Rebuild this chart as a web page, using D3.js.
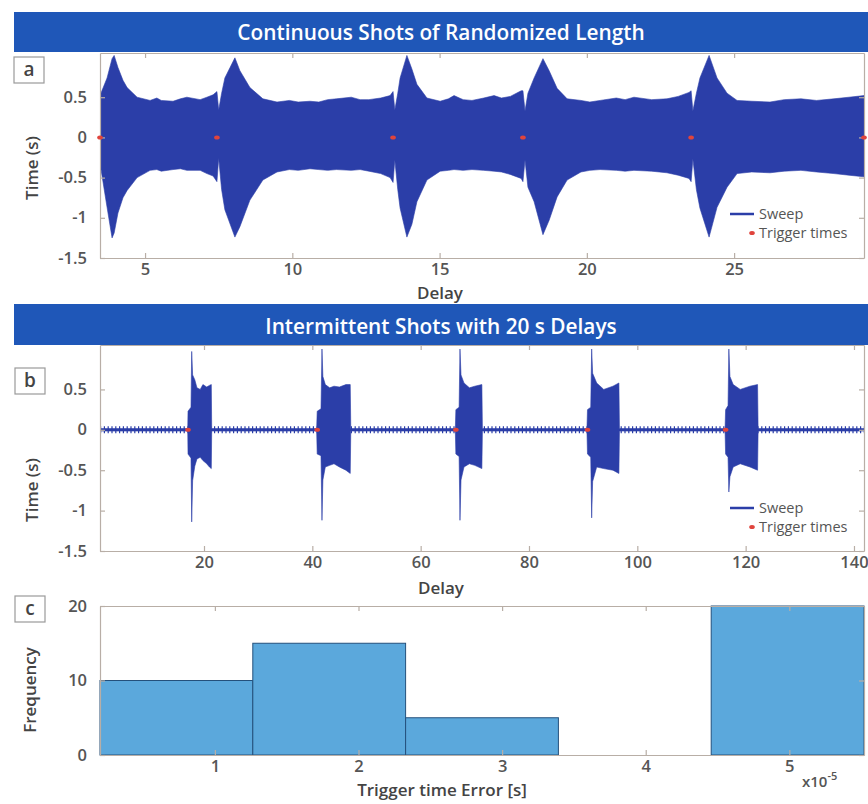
<!DOCTYPE html>
<html>
<head>
<meta charset="utf-8">
<script src="https://cdn.jsdelivr.net/npm/d3@7"></script>
<style>
  body { margin: 0; background: #ffffff; }
  text { font-family: "Open Sans", "Noto Sans", sans-serif; }
</style>
</head>
<body>
<svg id="fig" width="868" height="804"></svg>
<script>
// ---------- Panel a: continuous shots (envelope of the sweep: [delay, upper, lower]) ----------
const sweepA = [
  [3.47, 0.52, -0.32], [3.71, 0.74, -0.87], [3.88, 0.98, -1.25], [3.95, 1.02, -1.19],
  [4.08, 0.87, -0.94], [4.25, 0.71, -0.75], [4.39, 0.62, -0.66], [4.73, 0.50, -0.50],
  [5.17, 0.46, -0.41], [5.40, 0.49, -0.40], [5.55, 0.46, -0.42], [5.95, 0.45, -0.40],
  [6.20, 0.48, -0.39], [6.42, 0.50, -0.41], [6.87, 0.47, -0.41], [7.10, 0.50, -0.45],
  [7.31, 0.53, -0.48], [7.44, 0.57, -0.55], [7.50, 0.34, -0.26], [7.60, 0.55, -0.65],
  [7.71, 0.74, -0.90], [8.05, 0.99, -1.24], [8.22, 0.83, -1.11], [8.56, 0.62, -0.78],
  [9.00, 0.48, -0.53], [9.48, 0.44, -0.43], [9.90, 0.46, -0.40], [10.20, 0.44, -0.41],
  [10.60, 0.45, -0.39], [10.90, 0.44, -0.40], [11.20, 0.47, -0.41], [11.50, 0.48, -0.40],
  [12.00, 0.50, -0.41], [12.30, 0.47, -0.40], [12.60, 0.47, -0.42], [13.00, 0.49, -0.45],
  [13.32, 0.52, -0.50], [13.42, 0.57, -0.56], [13.48, 0.34, -0.28], [13.58, 0.55, -0.65],
  [13.66, 0.74, -0.88], [13.89, 1.02, -1.24], [14.06, 0.85, -1.08], [14.23, 0.66, -0.80],
  [14.57, 0.49, -0.53], [15.02, 0.45, -0.42], [15.30, 0.48, -0.41], [15.49, 0.52, -0.40],
  [15.80, 0.47, -0.41], [16.10, 0.46, -0.40], [16.50, 0.49, -0.41], [16.85, 0.52, -0.42],
  [17.10, 0.49, -0.43], [17.40, 0.51, -0.46], [17.77, 0.58, -0.51], [17.83, 0.58, -0.55],
  [17.90, 0.33, -0.28], [18.00, 0.55, -0.62], [18.21, 0.74, -0.80], [18.51, 0.98, -1.21],
  [18.72, 0.83, -1.03], [18.99, 0.61, -0.74], [19.33, 0.48, -0.53], [19.80, 0.46, -0.43],
  [20.10, 0.44, -0.41], [20.45, 0.46, -0.40], [21.00, 0.49, -0.41], [21.30, 0.47, -0.42],
  [21.60, 0.50, -0.41], [22.20, 0.47, -0.42], [22.72, 0.48, -0.44], [23.10, 0.51, -0.47],
  [23.47, 0.56, -0.51], [23.54, 0.58, -0.55], [23.60, 0.33, -0.27], [23.72, 0.55, -0.65],
  [23.84, 0.74, -0.88], [24.15, 1.02, -1.24], [24.42, 0.74, -0.87], [24.76, 0.55, -0.62],
  [25.10, 0.46, -0.45], [25.60, 0.45, -0.43], [26.22, 0.44, -0.44], [26.70, 0.47, -0.42],
  [27.27, 0.48, -0.41], [27.80, 0.46, -0.43], [28.39, 0.48, -0.45], [28.90, 0.50, -0.47],
  [29.41, 0.52, -0.49]
];
const triggersA = [3.47, 7.44, 13.42, 17.83, 23.54, 29.41];
const xTicksA = [5, 10, 15, 20, 25];

// ---------- Panel b: intermittent shots ----------
const sweepB = [
  [0.80, 0.015, -0.015], [17.00, 0.015, -0.015],
  [17.05, 0.23, -0.30], [17.60, 0.28, -0.35], [17.73, 0.97, -1.14], [17.90, 0.68, -0.63],
  [18.30, 0.62, -0.45], [18.70, 0.52, -0.36], [19.30, 0.50, -0.34], [19.80, 0.56, -0.38],
  [20.50, 0.53, -0.42], [21.00, 0.55, -0.46], [21.35, 0.56, -0.48], [21.42, 0.015, -0.015],
  [40.80, 0.015, -0.015],
  [40.90, 0.23, -0.30], [41.60, 0.26, -0.32], [41.78, 1.00, -1.12], [41.95, 0.66, -0.62],
  [42.40, 0.56, -0.46], [43.20, 0.52, -0.44], [44.00, 0.54, -0.42], [45.00, 0.53, -0.46],
  [46.20, 0.56, -0.50], [47.00, 0.56, -0.54], [47.10, 0.015, -0.015],
  [66.40, 0.015, -0.015],
  [66.50, 0.25, -0.30], [67.10, 0.28, -0.33], [67.26, 1.00, -1.12], [67.45, 0.68, -0.62],
  [68.00, 0.58, -0.46], [69.00, 0.52, -0.42], [70.00, 0.54, -0.44], [71.30, 0.56, -0.48],
  [71.40, 0.015, -0.015],
  [90.70, 0.015, -0.015],
  [90.80, 0.25, -0.30], [91.40, 0.28, -0.34], [91.57, 1.00, -1.09], [91.75, 0.70, -0.64],
  [92.50, 0.58, -0.46], [93.80, 0.50, -0.48], [95.50, 0.54, -0.50], [96.60, 0.58, -0.54],
  [96.70, 0.015, -0.015],
  [116.20, 0.015, -0.015],
  [116.30, 0.25, -0.30], [116.75, 0.30, -0.34], [116.90, 1.00, -0.77], [117.10, 0.66, -0.58],
  [117.70, 0.56, -0.46], [119.00, 0.50, -0.42], [120.80, 0.54, -0.46], [122.20, 0.56, -0.50],
  [122.30, 0.015, -0.015],
  [141.85, 0.015, -0.015]
];
const triggersB = [17.05, 40.9, 66.5, 90.8, 116.3];
const xTicksB = [20, 40, 60, 80, 100, 120, 140];

// shared y axis of panels a and b
const yTicksAB = [-1.5, -1, -0.5, 0, 0.5];
const yTickLabelsAB = ["-1.5", "-1", "-0.5", "0", "0.5"];

// ---------- Panel c: histogram of trigger time error (x in units of 1e-5 s) ----------
const binEdges = [0.2, 1.264, 2.328, 3.392, 4.456, 5.52];
const binCounts = [10, 15, 5, 0, 20];
const xTicksC = [1, 2, 3, 4, 5];
const yTicksC = [0, 10, 20];
const yTickLabelsC = ["0", "10", "20"];

// ---------- drawing ----------
const svg = d3.select("#fig");
const C = {
  banner: "#1f57b8", sweep: "#2b3ea8", trig: "#e0443c",
  bar: "#5ba8dc", barEdge: "#24507c", frame: "#b8aea6",
  tick: "#555555", label: "#444444"
};
const L = 100, R = 864;
const TICK_FS = 16.5, LABEL_FS = 17;

// boxed axes with inward ticks; y tick labels are right-aligned 13px left of the axis
function frame(g, x, y, xt, yt, ytLabels, top, bottom) {
  const axB = d3.axisBottom(x).tickValues(xt).tickSize(-5).tickSizeOuter(0).tickPadding(5)
    .tickFormat(d3.format("d"));
  const axL = d3.axisLeft(y).tickValues(yt).tickSize(-5).tickSizeOuter(0).tickFormat("");
  const axT = d3.axisTop(x).tickValues(xt).tickSize(-5).tickSizeOuter(0).tickFormat("");
  const axR = d3.axisRight(y).tickValues(yt).tickSize(-5).tickSizeOuter(0).tickFormat("");
  g.append("g").attr("transform", `translate(0,${bottom})`).call(axB);
  g.append("g").attr("transform", `translate(${L},0)`).call(axL);
  g.append("g").attr("transform", `translate(0,${top})`).call(axT);
  g.append("g").attr("transform", `translate(${R},0)`).call(axR);
  g.selectAll(".domain, .tick line").attr("stroke", C.frame).attr("stroke-width", 1.2);
  g.selectAll(".tick text").attr("fill", C.tick).attr("font-size", TICK_FS).attr("font-weight", 600);
  g.append("g").selectAll("text").data(yt).join("text")
    .attr("x", L - 13).attr("y", d => y(d)).attr("dy", "0.34em")
    .attr("text-anchor", "end").attr("fill", C.tick).attr("font-size", TICK_FS).attr("font-weight", 600)
    .text((d, i) => ytLabels[i]);
}

function labelBox(letter, x, y) {
  svg.append("rect").attr("x", x).attr("y", y).attr("width", 30).attr("height", 26)
    .attr("fill", "#fff").attr("stroke", "#9a9a9a").attr("stroke-width", 1.2);
  svg.append("text").attr("x", x + 15).attr("y", y + 19).attr("text-anchor", "middle")
    .attr("font-size", 19).attr("font-weight", 600).attr("fill", "#444").text(letter);
}

function banner(title, y, h, ty) {
  svg.append("rect").attr("x", 14).attr("y", y).attr("width", 854).attr("height", h).attr("fill", C.banner);
  svg.append("text").attr("x", 441).attr("y", ty).attr("text-anchor", "middle")
    .attr("fill", "#ffffff").attr("font-size", 20.8).attr("font-weight", 600).text(title);
}

function yLabel(txt, cx, cy) {
  svg.append("text").attr("transform", `translate(${cx},${cy}) rotate(-90)`)
    .attr("text-anchor", "middle").attr("font-size", LABEL_FS).attr("font-weight", 600)
    .attr("fill", C.label).text(txt);
}

function legend(x, y) {
  const g = svg.append("g").attr("transform", `translate(${x},${y})`);
  g.append("line").attr("x1", 0).attr("x2", 24).attr("y1", 0).attr("y2", 0)
    .attr("stroke", C.sweep).attr("stroke-width", 2.5);
  g.append("text").attr("x", 29).attr("y", 5).attr("font-size", 14.5).attr("fill", "#555").text("Sweep");
  g.append("ellipse").attr("cx", 22).attr("cy", 19).attr("rx", 2.8).attr("ry", 2).attr("fill", C.trig);
  g.append("text").attr("x", 29).attr("y", 24).attr("font-size", 14.5).attr("fill", "#555").text("Trigger times");
}

function sweepPanel(id, data, triggers, xDomain, xTicks, top, bottom) {
  const x = d3.scaleLinear().domain(xDomain).range([L, R]);
  const y = d3.scaleLinear().domain([-1.5, 1.05]).range([bottom, top]);
  const g = svg.append("g");
  const clip = "clip-" + id;
  svg.append("clipPath").attr("id", clip).append("rect")
    .attr("x", L).attr("y", top - 10).attr("width", R - L).attr("height", bottom - top + 10);
  const plot = g.append("g").attr("clip-path", `url(#${clip})`);
  if (id === "b") {
    // low-level ringing between shots
    plot.append("line").attr("x1", L).attr("x2", R).attr("y1", y(0)).attr("y2", y(0))
      .attr("stroke", C.sweep).attr("stroke-width", 7).attr("stroke-dasharray", "1.2,2.6");
  }
  const area = d3.area().x(d => x(d[0])).y0(d => y(d[2])).y1(d => y(d[1]));
  plot.append("path").datum(data).attr("d", area).attr("fill", C.sweep)
    .attr("stroke", C.sweep).attr("stroke-width", 0.6);
  frame(g, x, y, xTicks, yTicksAB, yTickLabelsAB, top, bottom);
  g.selectAll("ellipse.trig").data(triggers).join("ellipse").attr("class", "trig")
    .attr("cx", d => x(d)).attr("cy", y(0)).attr("rx", 2.8).attr("ry", 2).attr("fill", C.trig);
}

// panel a
sweepPanel("a", sweepA, triggersA, [3.47, 29.41], xTicksA, 53, 258);
svg.append("text").attr("x", 440).attr("y", 299).attr("text-anchor", "middle")
  .attr("font-size", LABEL_FS).attr("font-weight", 600).attr("fill", C.label).text("Delay");
yLabel("Time (s)", 38, 168);
legend(730, 214);

// panel b
sweepPanel("b", sweepB, triggersB, [0.8, 141.85], xTicksB, 345, 551);
svg.append("text").attr("x", 441).attr("y", 594).attr("text-anchor", "middle")
  .attr("font-size", LABEL_FS).attr("font-weight", 600).attr("fill", C.label).text("Delay");
yLabel("Time (s)", 38, 490);
legend(730, 508);

// panel c
{
  const x = d3.scaleLinear().domain([binEdges[0], binEdges[binEdges.length - 1]]).range([L, R]);
  const y = d3.scaleLinear().domain([0, 20]).range([755, 606]);
  const g = svg.append("g");
  const bins = binCounts.map((c, i) => ({ x0: binEdges[i], x1: binEdges[i + 1], n: c })).filter(d => d.n > 0);
  g.selectAll("rect.bar").data(bins).join("rect").attr("class", "bar")
    .attr("x", d => x(d.x0)).attr("width", d => x(d.x1) - x(d.x0))
    .attr("y", d => y(d.n)).attr("height", d => y(0) - y(d.n))
    .attr("fill", C.bar).attr("stroke", C.barEdge).attr("stroke-width", 1);
  frame(g, x, y, xTicksC, yTicksC, yTickLabelsC, 606, 755);
  svg.append("text").attr("x", 442).attr("y", 796).attr("text-anchor", "middle")
    .attr("font-size", LABEL_FS).attr("font-weight", 600).attr("fill", C.label).text("Trigger time Error [s]");
  const ex = svg.append("text").attr("x", 802).attr("y", 787).attr("font-size", 15)
    .attr("font-weight", 600).attr("fill", C.tick);
  ex.append("tspan").text("x10");
  ex.append("tspan").attr("dy", -7).attr("font-size", 11).text("-5");
  yLabel("Frequency", 36, 690);
}

// banners and panel letters drawn last so they sit above the plots
banner("Continuous Shots of Randomized Length", 12, 40, 40);
banner("Intermittent Shots with 20 s Delays", 304, 41, 334);
labelBox("a", 14, 57);
labelBox("b", 15, 368);
labelBox("c", 15, 596);
</script>
</body>
</html>
